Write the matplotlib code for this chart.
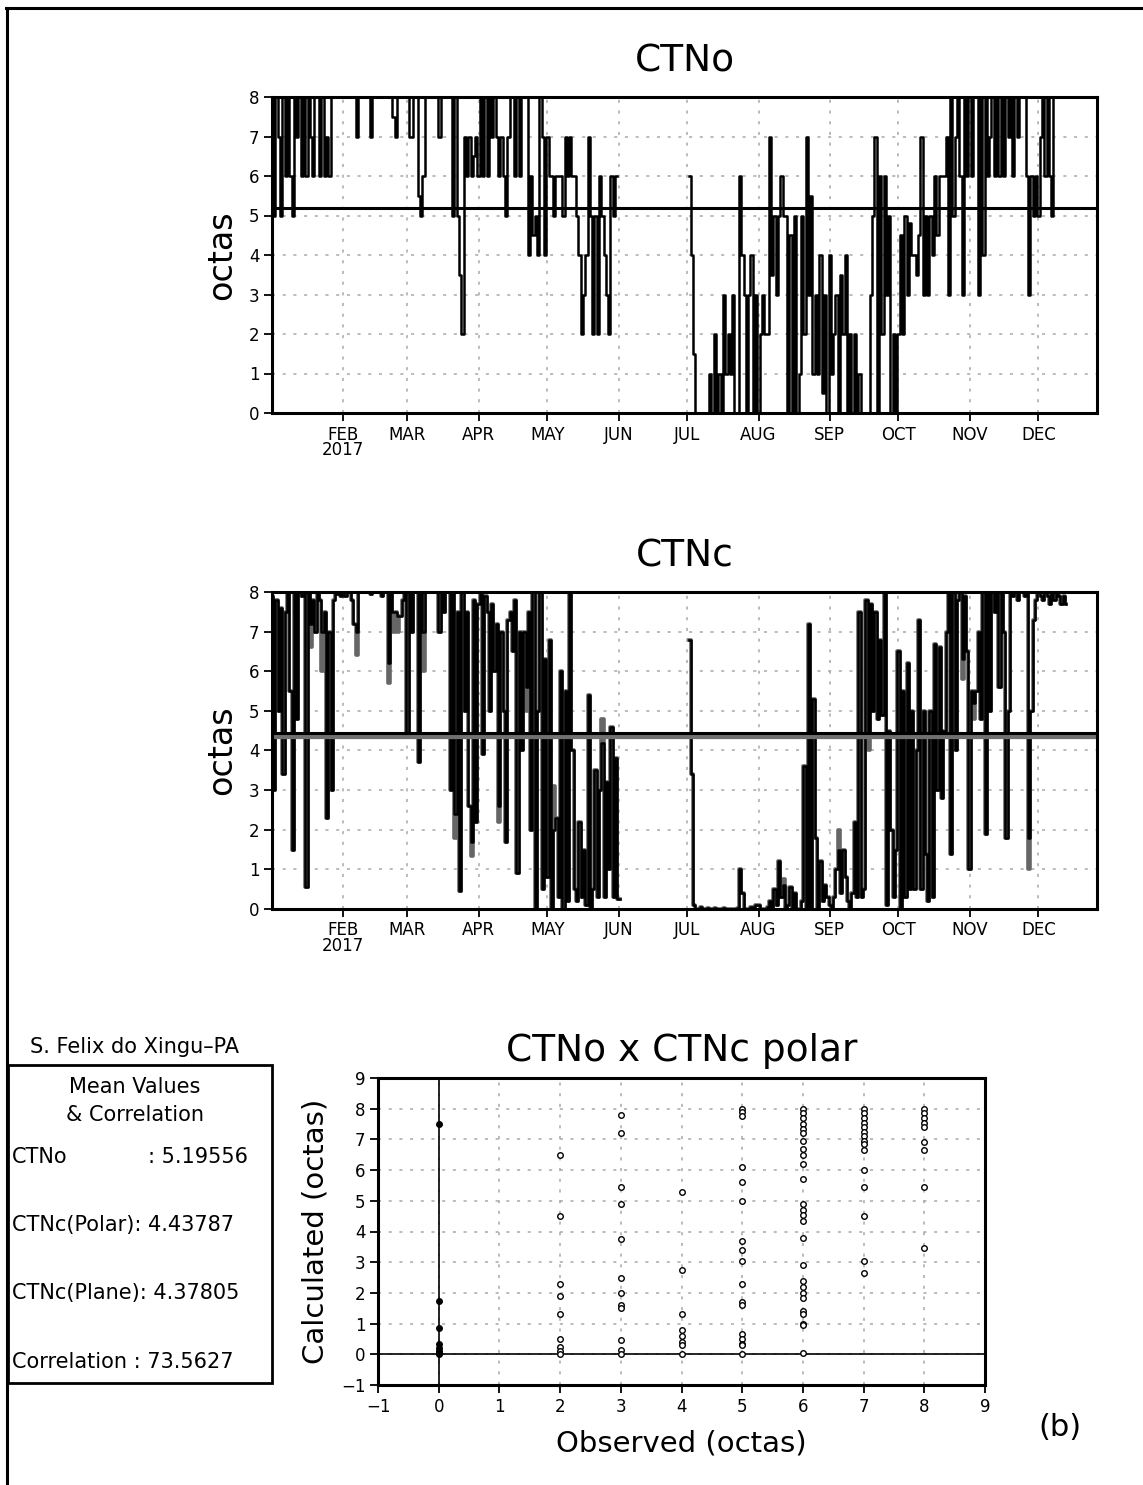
import numpy as np
import matplotlib
matplotlib.use('Agg')
import matplotlib.pyplot as plt
from matplotlib.lines import Line2D
from matplotlib.patches import Rectangle

# ---- data ----
# CTNo observed (octas), one value per day from Jan 1; no data in June
ctno_part1 = [8, 5, 8, 7, 5, 8, 6, 8, 6, 5,
              8, 7, 8, 6, 8, 6, 8, 7, 6, 8,
              8, 6, 8, 6, 7, 6, 8, 8, 8, 8,
              8, 8, 8, 8, 8, 8, 8, 7, 8, 8,
              8, 8, 8, 7, 8, 8, 8, 8, 8, 8,
              8, 8, 8, 7.5, 7, 8, 8, 8, 8, 8,
              7, 7, 8, 8, 5.5, 5, 6, 8, 8, 8,
              8, 8, 8, 7, 8, 8, 8, 8, 8, 5,
              8, 5, 3.5, 2, 7, 6, 7, 6, 6.5, 7,
              6, 8, 6, 8, 6, 8, 7, 8, 7, 6,
              7, 6, 5, 7, 8, 8, 6, 8, 6, 8,
              8, 8, 4, 6, 4.5, 5, 4, 8, 7, 4,
              7, 6, 6, 5, 6, 6, 6, 5, 7, 6,
              7, 6, 6, 5, 4, 2, 3, 4, 7, 5,
              2, 5, 2, 6, 5, 4, 3, 2, 6, 5,
              6]
ctno_start2 = 182
ctno_part2 = [6, 4, 1.5, 0, 0, 0, 0, 0, 0, 1,
              0, 2, 0, 1, 0, 3, 1, 2, 1, 3,
              0, 0, 6, 4, 3, 0, 3, 4, 0, 3,
              0, 2, 3, 2, 2, 7, 3.5, 5, 3, 5,
              6, 5, 5, 0, 4.5, 0, 5, 0, 1, 5,
              2, 7, 3, 5.5, 1, 3, 1, 4, 0.5, 3,
              0, 4, 1, 2, 3, 0, 3.5, 2, 4, 0,
              2, 0, 2, 0, 1, 0, 0, 0, 0, 3,
              5, 7, 0, 6, 2, 6, 3, 5, 0, 2,
              0, 2, 4.5, 2, 5, 3, 4.8, 4, 4, 3.5,
              4.5, 7, 3, 5, 3, 5, 4, 6, 4.5, 6,
              6, 6, 7, 3, 8, 5, 7, 8, 6, 3,
              8, 6, 8, 6, 8, 8, 3, 8, 4, 8,
              6, 7, 8, 6, 8, 6, 8, 6, 8, 7,
              8, 6, 8, 7, 8, 8, 8, 6, 3, 6,
              5, 6, 5, 7, 8, 6, 8, 6, 5, 8]

# CTNc polar (octas), one value per day
polar_part1 = [7.9, 3.0, 7.8, 5.0, 7.6, 3.4, 7.5, 8.0, 5.5, 1.5,
               8.0, 4.8, 8.0, 7.9, 8.0, 0.55, 8.0, 7.2, 7.8, 7.0,
               8.0, 7.8, 7.0, 7.5, 2.3, 7.0, 3.0, 7.8, 8.0, 7.95,
               7.9, 8.0, 7.9, 8.0, 8.0, 7.8, 7.2, 7.0, 8.0, 8.0,
               8.0, 8.0, 8.0, 7.95, 8.0, 8.0, 8.0, 8.0, 7.9, 8.0,
               8.0, 6.2, 8.0, 7.5, 7.5, 7.4, 7.4, 7.8, 8.0, 4.45,
               8.0, 7.0, 8.0, 8.0, 3.7, 8.0, 7.0, 8.0, 8.0, 8.0,
               8.0, 8.0, 8.0, 7.0, 8.0, 7.5, 8.0, 8.0, 3.0, 8.0,
               2.4, 7.5, 0.45, 8.0, 5.0, 7.5, 2.6, 1.7, 7.8, 2.2,
               7.7, 8.0, 3.9, 7.9, 7.5, 5.0, 7.7, 6.0, 7.2, 2.6,
               7.0, 5.0, 1.7, 7.3, 7.5, 6.5, 7.8, 0.9, 7.0, 4.0,
               7.0, 5.6, 7.5, 2.0, 8.0, 0.0, 5.0, 8.0, 0.5, 6.3,
               0.8, 6.8, 0.0, 2.0, 2.3, 0.3, 6.0, 0.0, 5.5, 0.2,
               8.0, 4.0, 0.5, 0.2, 2.2, 0.3, 1.5, 0.1, 5.4, 0.0,
               0.5, 3.5, 0.3, 3.0, 4.2, 0.3, 3.2, 1.0, 4.6, 0.3,
               3.8, 0.25]
polar_start2 = 182
polar_part2 = [6.8, 3.4, 0.1, 0.0, 0.0, 0.05, 0.0, 0.0, 0.02, 0.0,
               0.0, 0.03, 0.0, 0.0, 0.0, 0.02, 0.0, 0.0, 0.0, 0.0,
               0.0, 0.02, 1.0, 0.4, 0.0, 0.0, 0.0, 0.05, 0.05, 0.1,
               0.1, 0.0, 0.0, 0.0, 0.05, 0.2, 0.0, 0.5, 0.1, 1.2,
               0.3, 0.6, 0.0, 0.1, 0.55, 0.0, 0.4, 0.0, 0.0, 0.2,
               3.6, 0.0, 7.2, 0.0, 5.3, 1.8, 0.0, 1.2, 0.2, 0.6,
               0.3, 0.1, 0.0, 0.3, 1.0, 1.5, 0.4, 1.5, 0.8, 0.2,
               0.0, 0.4, 2.2, 0.3, 7.5, 0.3, 0.5, 7.8, 4.5, 7.7,
               5.0, 7.5, 4.8, 6.8, 4.9, 8.0, 0.1, 4.5, 2.0, 0.3,
               1.5, 6.5, 0.0, 5.5, 0.3, 6.2, 0.5, 5.0, 0.5, 4.0,
               7.3, 0.5, 5.0, 1.4, 0.2, 5.0, 0.3, 6.7, 3.0, 6.6,
               2.8, 4.5, 7.0, 8.0, 1.4, 8.0, 4.0, 7.8, 8.0, 6.3,
               7.9, 6.5, 1.0, 5.5, 5.2, 5.5, 7.0, 4.8, 8.0, 1.9,
               8.0, 5.0, 8.0, 7.5, 8.0, 5.6, 8.0, 7.0, 1.8, 5.0,
               8.0, 7.9, 8.0, 7.8, 8.0, 8.0, 7.9, 8.0, 1.8, 5.0,
               7.3, 7.8, 8.0, 7.9, 7.8, 8.0, 7.9, 7.7, 8.0, 7.8,
               8.0, 7.9, 7.7, 7.9, 7.7]

# CTNc plane: same as polar except on these days
plane_days = [17, 22, 37, 51, 53, 55, 66, 80, 87, 99, 111, 123, 144,
              223, 247, 260, 301, 306, 330]
plane_vals = [6.6, 6.0, 6.4, 5.7, 7.0, 7.0, 6.0, 1.8, 1.35, 2.2, 5.0, 3.1, 4.8,
              0.75, 2.0, 4.0, 5.8, 4.8, 1.0]

ctno_mean = 5.19556
polar_mean = 4.43787
plane_mean = 4.37805
correlation = 73.5627

month_days = [31, 59, 90, 120, 151, 181, 212, 243, 273, 304, 334]
month_labels = ['FEB\n2017', 'MAR', 'APR', 'MAY', 'JUN', 'JUL', 'AUG',
                'SEP', 'OCT', 'NOV', 'DEC']

# scatter: calculated values for each observed class
obs_classes = [0, 2, 3, 4, 5, 6, 7, 8]
calc_values = [
    [7.5, 1.75, 0.85, 0.35, 0.2, 0.1, 0.05, 0.0],
    [6.5, 4.5, 2.3, 1.9, 1.3, 0.5, 0.25, 0.1, 0.0],
    [7.8, 7.2, 5.45, 4.9, 3.75, 2.5, 2.0, 1.6, 1.5, 0.45, 0.15, 0.0],
    [5.3, 2.75, 1.3, 0.8, 0.6, 0.4, 0.3, 0.0],
    [8.0, 7.9, 7.75, 6.1, 5.6, 5.0, 3.7, 3.4, 3.05, 2.3, 1.7, 1.6, 0.65, 0.5, 0.35, 0.3, 0.0],
    [8.0, 7.85, 7.7, 7.5, 7.35, 7.2, 6.95, 6.7, 6.5, 6.2, 5.7, 4.9, 4.7, 4.55, 4.35,
     3.8, 2.9, 2.4, 2.2, 2.0, 1.85, 1.4, 1.3, 1.0, 0.95, 0.05],
    [8.0, 7.85, 7.7, 7.55, 7.4, 7.25, 7.1, 6.95, 6.85, 6.65, 6.0, 5.45, 4.5, 3.05, 2.65],
    [8.0, 7.85, 7.7, 7.55, 7.4, 6.9, 6.65, 5.45, 3.45],
]

# ---- build series (NaN for the June gap) ----
ctno = ctno_part1 + [np.nan] * (ctno_start2 - len(ctno_part1)) + ctno_part2
ctno_days = np.arange(len(ctno))
polar = polar_part1 + [np.nan] * (polar_start2 - len(polar_part1)) + polar_part2
polar_daylist = np.arange(len(polar))
plane = list(polar)
for d, v in zip(plane_days, plane_vals):
    plane[d] = v

W, H = 1143, 1485
fig = plt.figure(figsize=(W / 100, H / 100), dpi=100)
plt.rcParams['font.family'] = 'DejaVu Sans'

def fx(x):
    return x / W

def fy(y):
    return 1 - y / H

grid_style = dict(color='#a8a8a8', linestyle=(0, (2, 5)), linewidth=1.1)

def setup_time(ax, title):
    ax.set_xlim(0, 359.5)
    ax.set_ylim(0, 8)
    ax.set_yticks(range(9))
    ax.set_xticks(month_days)
    ax.set_xticklabels(month_labels, linespacing=0.85)
    ax.grid(True, **grid_style)
    ax.set_axisbelow(True)
    for s in ax.spines.values():
        s.set_linewidth(2.2)
    ax.tick_params(direction='out', length=6, width=1.3, labelsize=12, pad=3)
    ax.set_ylabel('octas', fontsize=24, labelpad=8)
    ax.set_title(title, fontsize=27, pad=18)

# top panel: CTNo
ax1 = fig.add_axes([fx(272), fy(413), fx(825), 316 / H])
setup_time(ax1, 'CTNo')
ax1.plot(ctno_days, ctno, color='k', lw=1.8, drawstyle='steps-mid')
ax1.axhline(ctno_mean, color='k', lw=2.2)

# middle panel: CTNc polar (black) and plane (grey)
ax2 = fig.add_axes([fx(272), fy(909), fx(825), 317 / H])
setup_time(ax2, 'CTNc')
ax2.plot(polar_daylist, plane, color='#666666', lw=2.6, drawstyle='steps-mid')
ax2.plot(polar_daylist, polar, color='k', lw=1.8, drawstyle='steps-mid')
ax2.axhline(plane_mean, color='#707070', lw=4.5)
ax2.axhline(polar_mean, color='k', lw=2.2)

# scatter panel
ax3 = fig.add_axes([fx(378), fy(1385), fx(607), 307 / H])
ax3.set_xlim(-1, 9)
ax3.set_ylim(-1, 9)
ax3.set_xticks(range(-1, 10))
ax3.set_yticks(range(-1, 10))
ax3.grid(True, **grid_style)
ax3.set_axisbelow(True)
for s in ax3.spines.values():
    s.set_linewidth(2.2)
ax3.tick_params(direction='out', length=6, width=1.3, labelsize=12, pad=3)
ax3.axhline(0, color='k', lw=1.2)
ax3.axvline(0, color='k', lw=1.2)
for obs, vals in zip(obs_classes, calc_values):
    face = 'k' if obs == 0 else 'white'
    ax3.plot([obs] * len(vals), vals, linestyle='none', marker='o', ms=4,
             mfc=face, mec='k', mew=1.0)
ax3.set_title('CTNo x CTNc polar', fontsize=27, pad=12)
ax3.set_xlabel('Observed (octas)', fontsize=21, labelpad=10)
ax3.set_ylabel('Calculated (octas)', fontsize=21, labelpad=8)

fig.text(fx(1060), fy(1427), '(b)', fontsize=22, ha='center', va='center')

# left info box
fig.text(fx(135), fy(1047), 'S. Felix do Xingu\u2013PA', fontsize=15,
         ha='center', va='center')
fig.add_artist(Rectangle((fx(8), fy(1383)), fx(264), 318 / H, fill=False,
                         lw=2.0, ec='k', transform=fig.transFigure))
fig.text(fx(135), fy(1087), 'Mean Values', fontsize=15, ha='center', va='center')
fig.text(fx(135), fy(1115), '& Correlation', fontsize=15, ha='center', va='center')
fig.text(fx(12), fy(1157), 'CTNo', fontsize=15, ha='left', va='center')
fig.text(fx(248), fy(1157), ': %.5f' % ctno_mean, fontsize=15, ha='right', va='center')
fig.text(fx(12), fy(1225), 'CTNc(Polar): %.5f' % polar_mean, fontsize=15,
         ha='left', va='center')
fig.text(fx(12), fy(1293), 'CTNc(Plane): %.5f' % plane_mean, fontsize=15,
         ha='left', va='center')
fig.text(fx(12), fy(1362), 'Correlation : %.4f' % correlation, fontsize=15,
         ha='left', va='center')

# outer frame (top and left edges)
fig.add_artist(Line2D([fx(6), 1], [fy(8), fy(8)], color='k', lw=2.2,
                      transform=fig.transFigure))
fig.add_artist(Line2D([fx(7), fx(7)], [fy(8), 0], color='k', lw=2.2,
                      transform=fig.transFigure))

fig.savefig('out.png', dpi=100)
